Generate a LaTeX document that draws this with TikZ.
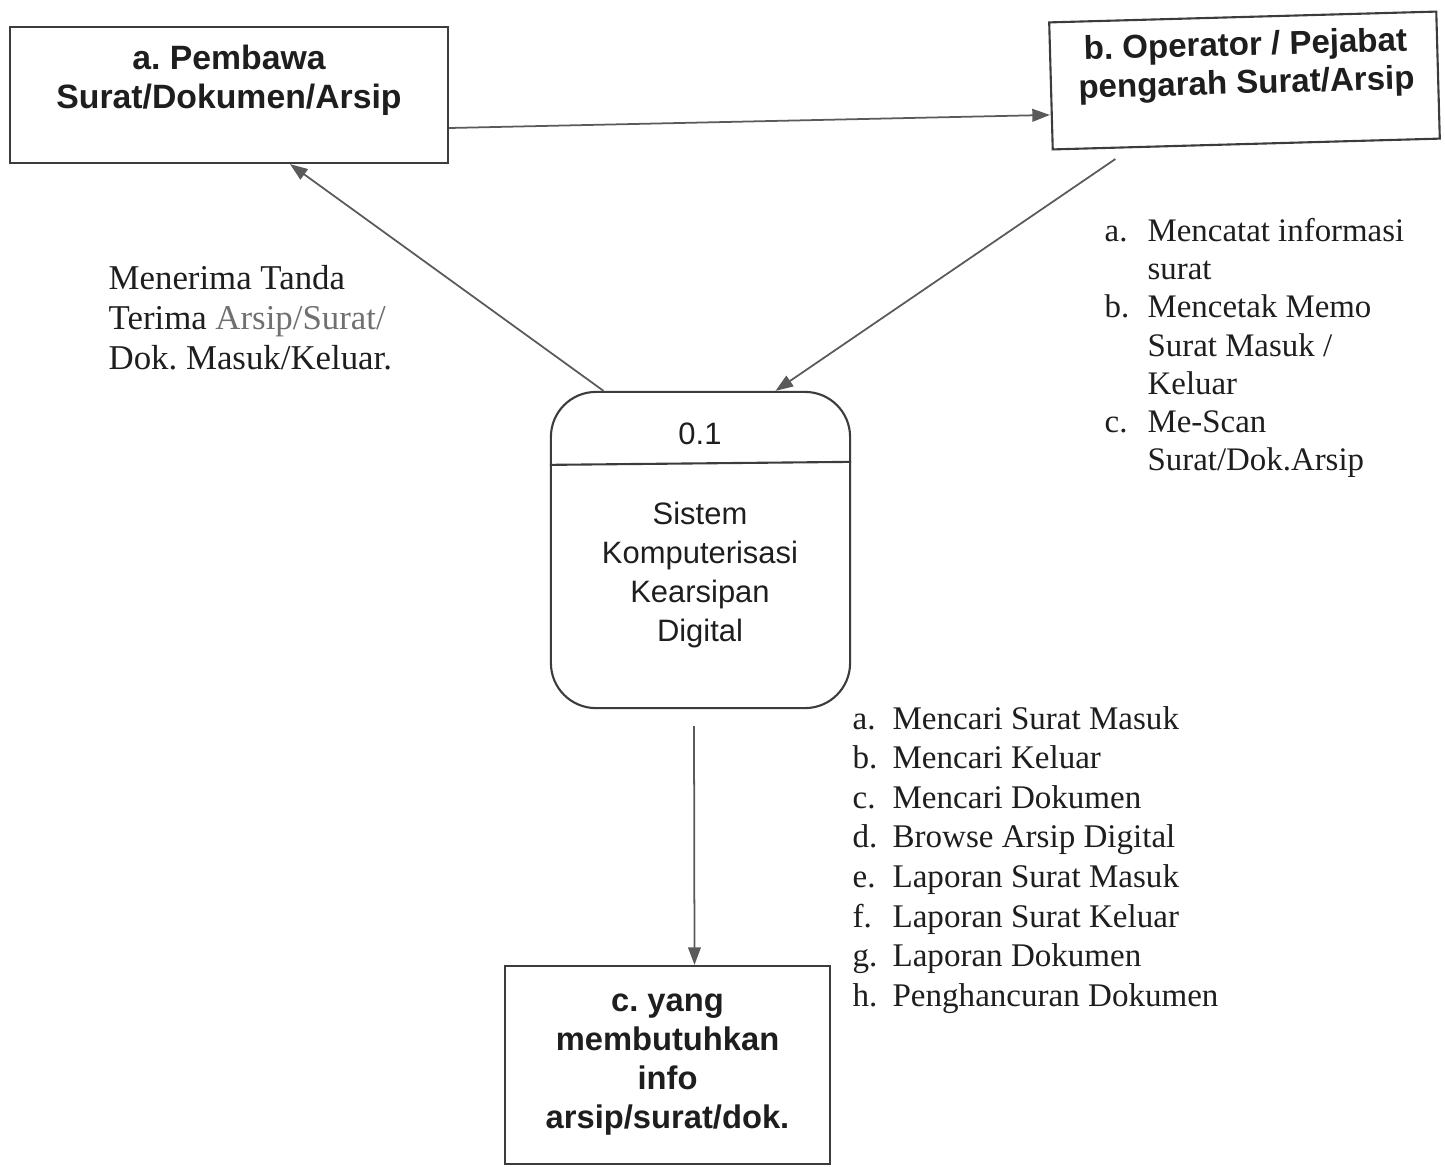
\documentclass[tikz,border=0pt]{standalone}
\usepackage{fontspec}
\setmainfont{Liberation Serif}
\setsansfont{Liberation Sans}
\usepackage{tikz}
\usetikzlibrary{arrows.meta,calc}
\definecolor{boxgray}{HTML}{3C3C3C}
\definecolor{flowgray}{HTML}{5A5A5A}
\definecolor{inkblack}{HTML}{1E1E1E}
\definecolor{fadedink}{HTML}{707070}

\begin{document}
\frenchspacing
\begin{tikzpicture}[x=0.01cm,y=-0.01cm,
    entity/.style={draw=boxgray,line width=0.6pt,inner sep=0pt},
    entitytext/.style={font=\sffamily\bfseries\fontsize{9.6}{11.2}\selectfont,align=center,text=inkblack},
    prosestext/.style={font=\sffamily\fontsize{8.8}{11.1}\selectfont,align=center,text=inkblack},
    flow/.style={draw=flowgray,line width=0.5pt,-{Triangle[length=5pt,width=3.6pt]}},
    note/.style={text=inkblack,inner sep=0pt,anchor=base west}]
    \useasboundingbox (0,0) rectangle (1445,1166);
    \node[entity,minimum width=4.38cm,minimum height=1.36cm] (pembawa) at (229,95) {};
    \node[entitytext] (pembawatxt) at (229,80) {a. Pembawa\\Surat/Dokumen/Arsip};
    \node[entity,rotate=1.6,minimum width=3.87cm,minimum height=1.27cm] (operator) at (1244.5,80.5) {};
    \node[entitytext,rotate=1.6,font=\sffamily\bfseries\fontsize{9.4}{10.9}\selectfont] (operatortxt) at (1246,66) {b. Operator / Pejabat\\pengarah Surat/Arsip};
    \node[entity,rounded corners=0.45cm,minimum width=2.99cm,minimum height=3.16cm] (proses) at (700.5,550) {};
    \draw[boxgray,line width=0.6pt] ($(proses.north west)+(0,74)$) -- ($(proses.north east)+(0,71)$);
    \node[prosestext] (nomor) at (700,434) {0.1};
    \node[prosestext] (prosestxt) at (700,575) {Sistem\\Komputerisasi\\Kearsipan\\Digital};
    \node[entity,entitytext,font=\sffamily\bfseries\fontsize{9.3}{11.1}\selectfont,minimum width=3.25cm,minimum height=1.98cm] (kebutuhan) at (667.5,1065) {c. yang\\membutuhkan\\info\\arsip/surat/dok.};
    \node[note,font=\fontsize{9.9}{11.4}\selectfont] (terimalbl) at (108,289) {\begin{tabular}[t]{@{}l@{}}Menerima Tanda\\Terima \textcolor{fadedink}{Arsip/Surat/}\\Dok. Masuk/Keluar.\end{tabular}};
    \node[note,font=\fontsize{9.35}{10.9}\selectfont] (operatorlbl) at (1104,241) {\begin{tabular}[t]{@{}l@{\hspace{5.2pt}}l@{}}a. & Mencatat informasi\\ & surat\\ b. & Mencetak Memo\\ & Surat Masuk /\\ & Keluar\\ c. & Me-Scan\\ & Surat/Dok.Arsip\end{tabular}};
    \node[note,font=\fontsize{9.4}{11.26}\selectfont] (proseslbl) at (852,729) {\begin{tabular}[t]{@{}l@{\hspace{4.3pt}}l@{}}a. & Mencari Surat Masuk\\ b. & Mencari Keluar\\ c. & Mencari Dokumen\\ d. & Browse Arsip Digital\\ e. & Laporan Surat Masuk\\ f. & Laporan Surat Keluar\\ g. & Laporan Dokumen\\ h. & Penghancuran Dokumen\end{tabular}};
    \draw[flow] ($(pembawa.east)+(0,33)$) -- ($(operator.west)+(0,29)$);
    \draw[flow] ($(operator.south)+(-131,14)$) -- ($(proses.north)+(75,0)$);
    \draw[flow] ($(proses.north)+(-97,0)$) -- ($(pembawa.south)+(61,0)$);
    \draw[flow] ($(proses.south)+(-6.5,17)$) -- ($(kebutuhan.north)+(27,0)$);
\end{tikzpicture}
\end{document}
